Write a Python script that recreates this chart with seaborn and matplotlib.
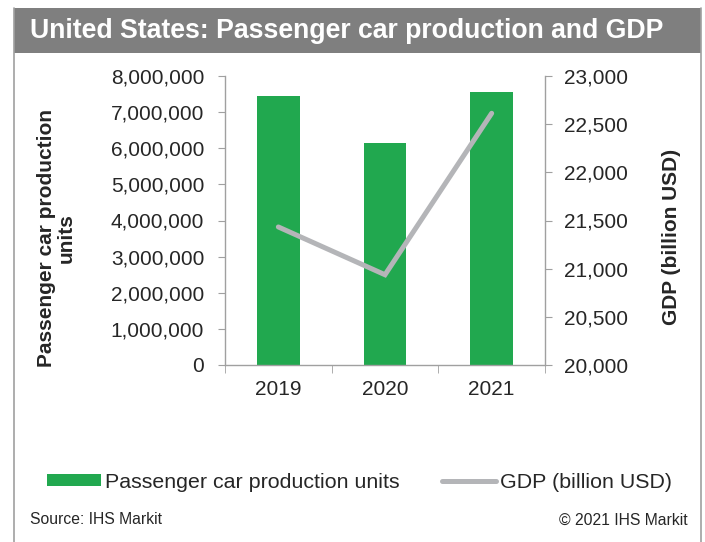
import matplotlib
matplotlib.use("Agg")
import matplotlib.pyplot as plt
import matplotlib.patches as mpatches
from matplotlib.lines import Line2D
from matplotlib.ticker import FuncFormatter, FixedLocator
import seaborn as sns
import pandas as pd
import numpy as np

years = ["2019", "2020", "2021"]
car_units = [7450000, 6140000, 7570000]
gdp_billion = [21433, 20937, 22613]

title = "United States: Passenger car production and GDP"
bar_label = "Passenger car production units"
line_label = "GDP (billion USD)"

green = "#21a84f"
grey_line = "#b4b5b8"
spine_col = "#a0a0a0"

sns.set_style("white")
plt.rcParams["font.family"] = ["Liberation Sans", "DejaVu Sans"]

df = pd.DataFrame({"year": years, "units": car_units, "gdp": gdp_billion})

W, H = 705, 542
fig = plt.figure(figsize=(W / 100, H / 100), dpi=100)
ax = fig.add_axes([225 / W, 1 - 365 / H, 320 / W, 289 / H])

sns.barplot(data=df, x="year", y="units", color=green, width=0.4,
            saturation=1, ax=ax, edgecolor="none")
ax.set_xlim(-0.5, len(years) - 0.5)
ax.set_ylim(0, 8000000)
ax.set_yticks(np.arange(0, 8000001, 1000000))
ax.yaxis.set_major_formatter(FuncFormatter(lambda v, p: f"{int(v):,}"))
ax.set_xlabel("")
ax.set_ylabel("Passenger car production\nunits", fontsize=15, fontweight="bold",
              linespacing=1.05)
ax.yaxis.set_label_coords(-0.466, 0.44)

ax2 = ax.twinx()
ax2.plot(np.arange(len(years)), df["gdp"], color=grey_line, lw=3.6,
         solid_capstyle="round", solid_joinstyle="miter")
ax2.set_ylim(20000, 23000)
ax2.set_yticks(np.arange(20000, 23001, 500))
ax2.yaxis.set_major_formatter(FuncFormatter(lambda v, p: f"{int(v):,}"))
ax2.set_ylabel(line_label, fontsize=15, fontweight="bold")
ax2.yaxis.set_label_coords(1.366, 0.443)

for a in (ax, ax2):
    for s in a.spines.values():
        s.set_color(spine_col)
        s.set_linewidth(1)
    a.spines["top"].set_visible(False)
ax.spines["right"].set_visible(False)
ax2.spines["left"].set_visible(False)
ax2.spines["bottom"].set_visible(False)

ax.tick_params(axis="y", direction="out", length=5, color=spine_col,
               labelsize=15, pad=10, left=True)
ax2.tick_params(axis="y", direction="out", length=5, color=spine_col,
                labelsize=15, pad=9, right=True)
ax.tick_params(axis="x", which="major", length=0, labelsize=15, pad=11)
ax.xaxis.set_minor_locator(FixedLocator(np.arange(len(years) + 1) - 0.5))
ax.tick_params(axis="x", which="minor", direction="out", length=6,
               color=spine_col, bottom=True)

# title banner and frame
fig.patches.append(mpatches.Rectangle((14 / W, 1 - 53 / H), 687 / W, 45 / H,
                                      transform=fig.transFigure,
                                      facecolor="#7f7f7f", edgecolor="none"))
fig.text(30 / W, 1 - 31 / H, title, color="white", fontsize=19.2,
         fontweight="bold", va="center", ha="left")
for xf in (14 / W, 701 / W):
    fig.add_artist(Line2D([xf, xf], [0, 1 - 8 / H], transform=fig.transFigure,
                          color=spine_col, lw=1.2))

handles = [mpatches.Patch(facecolor=green, edgecolor="none", label=bar_label),
           Line2D([0], [0], color=grey_line, lw=3.6, label=line_label)]
fig.legend(handles=handles, loc="center", bbox_to_anchor=(0.51, 1 - 482 / H),
           ncol=2, frameon=False, fontsize=15.4, handlelength=2.5,
           handleheight=0.5, handletextpad=0.2, columnspacing=2.0)

fig.text(30 / W, 1 - 520 / H, "Source: IHS Markit", fontsize=11.3, va="center")
fig.text(688 / W, 1 - 520 / H, "\u00a9 2021 IHS Markit", fontsize=11.3,
         va="center", ha="right")

fig.savefig("out.png", dpi=100)
